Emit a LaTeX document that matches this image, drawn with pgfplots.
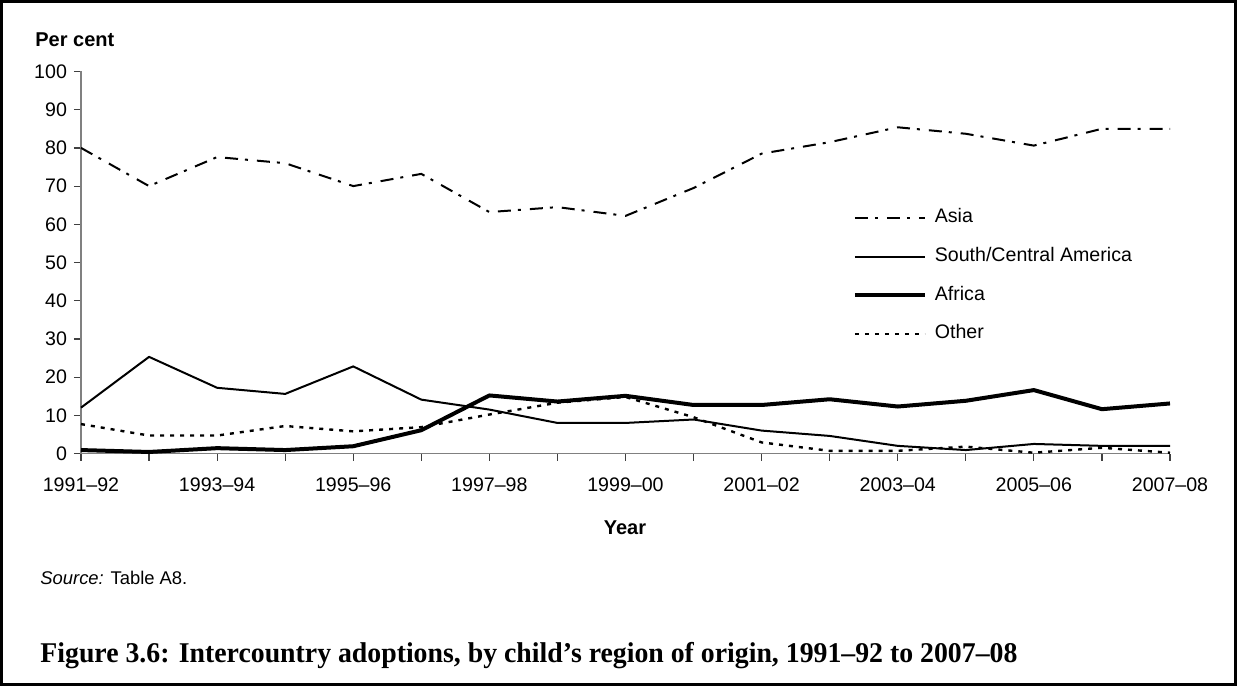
\documentclass[border=0pt]{standalone}
\usepackage{fontspec}
\setmainfont{Liberation Sans}
\newfontfamily\capfont{Liberation Serif}
\usepackage{graphicx}
\usepackage{pgfplots}
\pgfplotsset{compat=1.18}

\pgfplotstableread{
idx asia south africa other
0  80.0 12.0  0.9  7.7
1  70.0 25.3  0.4  4.7
2  77.6 17.2  1.4  4.7
3  76.0 15.6  0.9  7.2
4  70.0 22.8  1.9  5.8
5  73.2 14.1  6.1  6.9
6  63.2 11.5 15.2 10.2
7  64.5  8.0 13.6 13.3
8  62.2  8.0 15.1 14.8
9  69.5  8.9 12.7  9.5
10 78.5  6.0 12.7  2.9
11 81.5  4.6 14.2  0.7
12 85.4  2.0 12.3  0.7
13 83.7  0.9 13.8  1.8
14 80.6  2.5 16.6  0.2
15 85.0  2.0 11.6  1.5
16 85.0  2.0 13.1  0.2
}\datatable

\begin{document}
\begin{tikzpicture}
\useasboundingbox (-40.5pt,-116.25pt) rectangle (578pt,226.75pt);
\begin{axis}[
  at={(0pt,0pt)}, anchor=south west,
  width=544.5pt, height=191pt, scale only axis,
  xmin=0, xmax=16, ymin=0, ymax=100,
  axis x line=bottom, axis y line=left,
  axis line style={-, draw=gray, line width=0.9pt},
  xtick={0,...,16},
  xticklabels={1991–92,,1993–94,,1995–96,,1997–98,,1999–00,,2001–02,,2003–04,,2005–06,,2007–08},
  ytick={0,10,...,100},
  tick align=outside,
  major tick length=3.5pt,
  tick style={draw=black!75, line width=0.6pt},
  /pgf/number format/assume math mode=true,
  ticklabel style={font=\fontsize{9.8}{11}\selectfont},
  xticklabel style={yshift=-5pt},
  clip=false,
  legend cell align=left,
  legend image code/.code={\draw[#1] (0pt,0pt) -- (35pt,0pt);},
  legend style={at={(axis cs:11.34,46.5)}, anchor=west, draw=none, fill=none,
    inner sep=0pt, outer sep=0pt, row sep=10.3pt, column sep=4pt,
    font=\fontsize{9.8}{11}\selectfont,
    nodes={inner sep=0pt, text height=7pt, text depth=2pt}},
]
\addplot[black, line width=1pt, dash pattern=on 6.5pt off 3.5pt on 1.5pt off 4.5pt] table[x=idx, y=asia] {\datatable};
\addlegendentry{Asia}
\addplot[black, line width=1pt, line join=round] table[x=idx, y=south] {\datatable};
\addlegendentry{South/Central America}
\addplot[black, line width=2pt, line join=round] table[x=idx, y=africa] {\datatable};
\addlegendentry{Africa}
\addplot[black, line width=1.2pt, dash pattern=on 2pt off 3pt] table[x=idx, y=other] {\datatable};
\addlegendentry{Other}
\end{axis}
\node[anchor=base west, inner sep=0pt, font=\bfseries\fontsize{10}{12}\selectfont] at (-23pt,203.4pt) {Per cent};
\node[anchor=base, inner sep=0pt, font=\bfseries\fontsize{10}{12}\selectfont] at (272pt,-40.25pt) {Year};
\node[anchor=base west, inner sep=0pt, font=\fontsize{9.2}{11}\selectfont] at (-20.5pt,-65.25pt) {\textit{Source:} Table A8.};
\node[anchor=base west, inner sep=0pt] at (-20.5pt,-104.25pt) {\resizebox{488.5pt}{\height}{\capfont\bfseries\fontsize{14.3}{16}\selectfont Figure 3.6: Intercountry adoptions, by child’s region of origin, 1991–92 to 2007–08}};
\draw[line width=1.5pt] (-39.75pt,-115.5pt) rectangle (577.25pt,226pt);
\end{tikzpicture}
\end{document}
